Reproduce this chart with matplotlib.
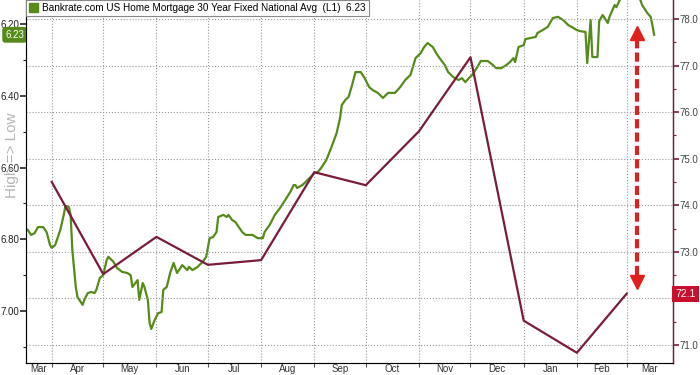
import matplotlib
matplotlib.use("Agg")
import matplotlib.pyplot as plt
import matplotlib.dates as mdates
import matplotlib.transforms as mtransforms
from matplotlib.patches import Patch
import pandas as pd

plt.rcParams['font.family'] = ['Liberation Sans', 'DejaVu Sans']

GREEN = '#568a1b'
MAROON = '#7a1c3c'
RED = '#e0201c'

# Bankrate 30y fixed mortgage rate (left axis, inverted)
mortgage_dates = [
    '2023-03-17', '2023-03-18', '2023-03-20', '2023-03-22', '2023-03-24', '2023-03-27',
    '2023-03-29', '2023-03-31', '2023-04-01', '2023-04-03', '2023-04-06', '2023-04-08',
    '2023-04-09', '2023-04-11', '2023-04-12', '2023-04-13', '2023-04-15', '2023-04-16',
    '2023-04-19', '2023-04-20', '2023-04-22', '2023-04-24', '2023-04-26', '2023-04-27',
    '2023-04-29', '2023-05-01', '2023-05-03', '2023-05-04', '2023-05-07', '2023-05-09',
    '2023-05-12', '2023-05-15', '2023-05-17', '2023-05-18', '2023-05-21', '2023-05-22',
    '2023-05-24', '2023-05-25', '2023-05-27', '2023-05-28', '2023-05-29', '2023-05-31',
    '2023-06-02', '2023-06-04', '2023-06-05', '2023-06-07', '2023-06-09', '2023-06-11',
    '2023-06-13', '2023-06-15', '2023-06-16', '2023-06-19', '2023-06-20', '2023-06-22',
    '2023-06-25', '2023-06-26', '2023-06-28', '2023-06-30', '2023-07-02', '2023-07-04',
    '2023-07-06', '2023-07-07', '2023-07-10', '2023-07-12', '2023-07-13', '2023-07-15',
    '2023-07-17', '2023-07-19', '2023-07-21', '2023-07-23', '2023-07-27', '2023-07-30',
    '2023-08-02', '2023-08-03', '2023-08-06', '2023-08-09', '2023-08-12', '2023-08-15',
    '2023-08-18', '2023-08-20', '2023-08-21', '2023-08-22', '2023-08-25', '2023-08-27',
    '2023-08-28', '2023-08-31', '2023-09-01', '2023-09-03', '2023-09-05', '2023-09-08',
    '2023-09-11', '2023-09-14', '2023-09-16', '2023-09-17', '2023-09-19', '2023-09-21',
    '2023-09-23', '2023-09-25', '2023-09-28', '2023-09-30', '2023-10-03', '2023-10-05',
    '2023-10-08', '2023-10-11', '2023-10-14', '2023-10-18', '2023-10-21', '2023-10-24',
    '2023-10-27', '2023-10-30', '2023-11-02', '2023-11-04', '2023-11-06', '2023-11-09',
    '2023-11-11', '2023-11-13', '2023-11-16', '2023-11-18', '2023-11-21', '2023-11-24',
    '2023-11-26', '2023-11-28', '2023-11-30', '2023-12-02', '2023-12-05', '2023-12-07',
    '2023-12-11', '2023-12-14', '2023-12-16', '2023-12-19', '2023-12-22', '2023-12-24',
    '2023-12-26', '2023-12-27', '2023-12-29', '2024-01-01', '2024-01-02', '2024-01-05',
    '2024-01-08', '2024-01-09', '2024-01-12', '2024-01-15', '2024-01-18', '2024-01-21',
    '2024-01-24', '2024-01-27', '2024-01-30', '2024-02-01', '2024-02-03', '2024-02-06',
    '2024-02-07', '2024-02-09', '2024-02-10', '2024-02-13', '2024-02-14', '2024-02-16',
    '2024-02-19', '2024-02-20', '2024-02-21', '2024-02-23', '2024-02-24', '2024-02-26',
    '2024-02-29', '2024-03-06', '2024-03-09', '2024-03-10', '2024-03-13', '2024-03-15',
    '2024-03-16', '2024-03-17',
]
mortgage_rate = [
    6.771, 6.774, 6.788, 6.783, 6.766, 6.766,
    6.780, 6.816, 6.824, 6.816, 6.774, 6.732,
    6.707, 6.710, 6.732, 6.830, 6.933, 6.961,
    6.983, 6.969, 6.950, 6.947, 6.950, 6.941,
    6.908, 6.900, 6.858, 6.849, 6.863, 6.880,
    6.891, 6.894, 6.900, 6.933, 6.914, 6.969,
    6.922, 6.933, 6.969, 7.033, 7.050, 7.025,
    7.006, 7.003, 6.941, 6.933, 6.894, 6.866,
    6.894, 6.880, 6.872, 6.886, 6.877, 6.886,
    6.877, 6.872, 6.863, 6.849, 6.797, 6.794,
    6.780, 6.738, 6.732, 6.738, 6.732, 6.746,
    6.752, 6.766, 6.780, 6.788, 6.788, 6.797,
    6.797, 6.780, 6.760, 6.732, 6.713, 6.691,
    6.668, 6.649, 6.649, 6.657, 6.649, 6.640,
    6.635, 6.621, 6.615, 6.613, 6.601, 6.579,
    6.543, 6.504, 6.462, 6.426, 6.412, 6.403,
    6.370, 6.334, 6.334, 6.348, 6.376, 6.384,
    6.392, 6.406, 6.392, 6.392, 6.376, 6.356,
    6.342, 6.295, 6.281, 6.264, 6.253, 6.264,
    6.281, 6.295, 6.314, 6.334, 6.348, 6.356,
    6.351, 6.362, 6.351, 6.342, 6.320, 6.303,
    6.303, 6.314, 6.323, 6.323, 6.314, 6.306,
    6.295, 6.306, 6.264, 6.259, 6.242, 6.239,
    6.236, 6.225, 6.217, 6.208, 6.183, 6.180,
    6.189, 6.203, 6.211, 6.217, 6.220, 6.222,
    6.309, 6.189, 6.292, 6.292, 6.192, 6.175,
    6.197, 6.180, 6.169, 6.147, 6.153, 6.133,
    6.111, 6.111, 6.133, 6.147, 6.169, 6.180,
    6.203, 6.230,
]

# monthly sentiment index (right axis)
sentiment_dates = ['2023-04-01', '2023-05-01', '2023-06-01', '2023-07-01', '2023-08-01',
                   '2023-09-01', '2023-10-01', '2023-11-01', '2023-12-01', '2024-01-01',
                   '2024-02-01', '2024-03-01']
sentiment = [74.50, 72.52, 73.32, 72.72, 72.82, 74.71, 74.43, 75.59, 77.18, 71.52, 70.83, 72.1]

x_start, x_end = pd.Timestamp('2023-03-17'), pd.Timestamp('2024-03-28')
arrow_date = pd.Timestamp('2024-03-07')
arrow_lo, arrow_hi = 72.35, 77.7

fig = plt.figure(figsize=(7, 3.75), dpi=100)
ax = fig.add_axes([26 / 700, 12 / 375, 647 / 700, 363 / 375])
ax2 = ax.twinx()

ax.plot(pd.to_datetime(mortgage_dates), mortgage_rate, color=GREEN, lw=1.6)
ax2.plot(pd.to_datetime(sentiment_dates), sentiment, color=MAROON, lw=1.6)

ax.set_xlim(x_start, x_end)
ax.set_ylim(7.145, 6.133)
ax2.set_ylim(70.61, 78.41)

# left axis
ax.set_yticks([6.2, 6.4, 6.6, 6.8, 7.0])
ax.set_yticklabels(['6.20', '6.40', '6.60', '6.80', '7.00'])
ax.set_yticks([6.3, 6.5, 6.7, 6.9, 7.1], minor=True)
ax.tick_params(axis='y', which='major', length=4, width=1.2, color='#222', labelsize=7,
               labelcolor='#222', pad=1)
ax.tick_params(axis='y', which='minor', length=2, width=0.8, color='#222')

# right axis (72.0 sits under the last-value box)
ax2.set_yticks(range(71, 79))
ax2.set_yticklabels(['' if v == 72 else f'{v:.1f}' for v in range(71, 79)])
ax2.set_yticks([70.5 + i for i in range(1, 8)], minor=True)
ax2.tick_params(axis='y', which='major', length=4, width=1.2, color=MAROON, labelsize=7,
                labelcolor='#444', pad=1)
ax2.tick_params(axis='y', which='minor', length=2, width=0.8, color=MAROON)

# x axis: ticks at month starts, labels centred in each month
months = pd.date_range('2023-03-01', '2024-04-01', freq='MS')
lo, hi = mdates.date2num(x_start), mdates.date2num(x_end)
bounds = [m for m in months if x_start < m < x_end]
centers, names = [], []
for a, b in zip(months[:-1], months[1:]):
    a_n, b_n = max(mdates.date2num(a), lo), min(mdates.date2num(b), hi)
    centers.append((a_n + b_n) / 2)
    names.append(a.strftime('%b'))
ax.set_xticks(bounds)
ax.set_xticklabels([''] * len(bounds))
ax.set_xticks(centers, minor=True)
ax.set_xticklabels(names, minor=True)
ax.tick_params(axis='x', which='major', length=3, color='#555')
ax.tick_params(axis='x', which='minor', length=0, labelsize=7, labelcolor='#333', pad=1)

ax.grid(axis='x', which='major', ls=':', color='#9a9a9a', lw=0.8)
ax2.grid(axis='y', which='major', ls=':', color='#9a9a9a', lw=0.8)

for a in (ax, ax2):
    a.spines['top'].set_visible(False)
ax.spines['left'].set_color('#666')
ax.spines['bottom'].set_color('#888')
ax2.spines['right'].set_color(MAROON)
ax2.spines['right'].set_linewidth(1.0)

# dashed double arrow
ax2.plot([arrow_date, arrow_date], [arrow_lo + 0.15, arrow_hi - 0.15], color=RED, lw=3,
         ls=(0, (2.2, 1.0)))
ax2.plot([arrow_date], [arrow_hi], marker='^', ms=10, color=RED)
ax2.plot([arrow_date], [arrow_lo], marker='v', ms=10, color=RED)

# last-value boxes
tl = mtransforms.blended_transform_factory(ax.transAxes, ax.transData)
ax.text(-0.003, mortgage_rate[-1], f'{mortgage_rate[-1]:.2f}', transform=tl, ha='right',
        va='center', fontsize=7, color='white', clip_on=False, zorder=10,
        bbox=dict(boxstyle='round,pad=0.3', fc=GREEN, ec='none'))
tr = mtransforms.blended_transform_factory(ax2.transAxes, ax2.transData)
ax2.text(1.004, sentiment[-1], f'{sentiment[-1]:.1f}', transform=tr, ha='left',
         va='center', fontsize=7.5, color='white', clip_on=False, zorder=10,
         bbox=dict(boxstyle='square,pad=0.3', fc='#c8102e', ec='none'))

fig.text(12 / 700, 1 - 155 / 375, 'High => Low', rotation=90, ha='center', va='center',
         fontsize=11, color='#b5b5b5')

leg = ax2.legend(handles=[Patch(color=GREEN)],
                 labels=['Bankrate.com US Home Mortgage 30 Year Fixed National Avg  (L1)  6.23'],
                 loc='upper left', bbox_to_anchor=(0, 1), borderaxespad=0, fontsize=7.2,
                 fancybox=False, edgecolor='#888', framealpha=1, handlelength=0.9,
                 handleheight=0.9, handletextpad=0.4, borderpad=0.3)
leg.get_frame().set_linewidth(0.8)

fig.savefig('out.png', dpi=100)
